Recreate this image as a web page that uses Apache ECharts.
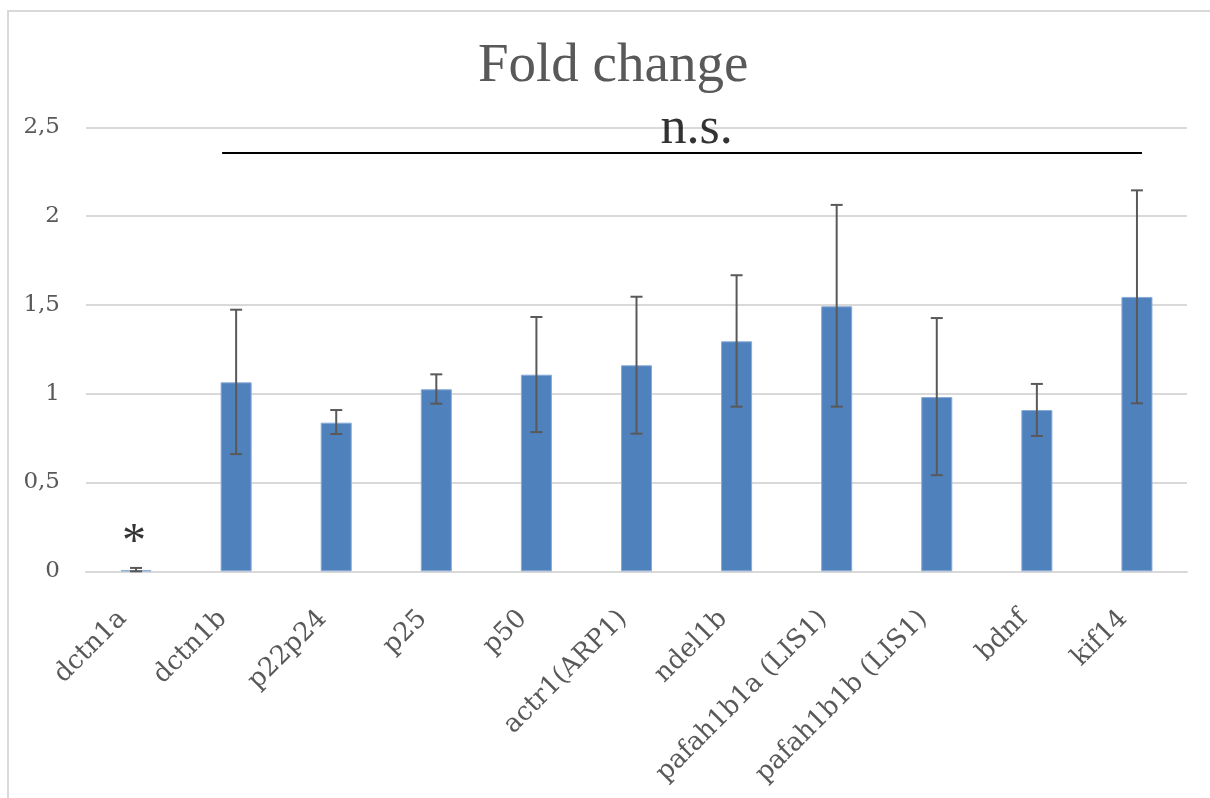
<!DOCTYPE html>
<html>
<head>
<meta charset="utf-8">
<script src="https://cdn.jsdelivr.net/npm/echarts@6/dist/echarts.min.js"></script>
<style>
html,body{margin:0;padding:0;background:#fff;}
#chart{width:1210px;height:798px;}
</style>
</head>
<body>
<div id="chart"></div>
<script>
// ---- data ----
var categories = ['dctn1a','dctn1b','p22p24','p25','p50','actr1(ARP1)','ndel1b','pafah1b1a (LIS1)','pafah1b1b (LIS1)','bdnf','kif14'];
var foldChange = [0.006, 1.064, 0.837, 1.025, 1.107, 1.160, 1.295, 1.492, 0.981, 0.908, 1.545];
var errUpper  = [0.019, 1.473, 0.908, 1.109, 1.432, 1.546, 1.667, 2.063, 1.426, 1.055, 2.145];
var errLower  = [0.000, 0.660, 0.773, 0.944, 0.784, 0.775, 0.927, 0.927, 0.541, 0.762, 0.946];
var yTicks = [0, 0.5, 1, 1.5, 2, 2.5];
var nsLine = [[0.86, 2.355], [10.05, 2.355]];
var nsLabel = [[5.6, 2.49]];
var starLabel = [[-0.02, 0.155]];

var TITLE_FONT = 'Liberation Serif';
var FONT = 'DejaVu Serif';
var chart = echarts.init(document.getElementById('chart'), null, {renderer: 'canvas'});

var errData = categories.map(function (c, i) { return [i, errLower[i], errUpper[i]]; });

var option = {
  animation: false,
  backgroundColor: '#ffffff',
  title: {
    text: 'Fold change',
    left: 473,
    top: 34,
    textStyle: {fontFamily: TITLE_FONT, fontSize: 55, fontWeight: 'normal', color: '#595959'}
  },
  graphic: [
    {type: 'polyline', shape: {points: [[8, 798], [8, 11], [1210, 11]]}, style: {stroke: '#d9d9d9', lineWidth: 2, fill: null}, silent: true}
  ],
  grid: {left: 86, right: 23, top: 127.3, bottom: 226.7, containLabel: false},
  xAxis: [{
    type: 'category',
    data: categories,
    axisLine: {show: true, lineStyle: {color: '#d9d9d9', width: 2}},
    axisTick: {show: false},
    axisLabel: {interval: 0, rotate: 45, margin: 30, padding: [0, 19, 0, 0], fontFamily: FONT, fontSize: 26, color: '#595959'}
  }, {
    type: 'value',
    min: -0.5, max: 10.5,
    show: false
  }],
  yAxis: {
    type: 'value',
    min: yTicks[0], max: yTicks[yTicks.length - 1], interval: 0.5,
    axisLine: {show: false},
    axisTick: {show: false},
    splitLine: {lineStyle: {color: '#d9d9d9', width: 2}},
    axisLabel: {
      margin: 26, fontFamily: FONT, fontSize: 23, color: '#595959',
      formatter: function (v) { return String(v).replace('.', ','); }
    }
  },
  series: [
    {
      type: 'bar',
      data: foldChange,
      barWidth: '31%',
      itemStyle: {color: '#4f81bd', borderColor: '#8aaad6', borderWidth: 1},
      z: 2
    },
    {
      type: 'custom',
      data: errData,
      z: 5,
      renderItem: function (params, api) {
        var x = api.value(0);
        var lo = api.coord([x, api.value(1)]);
        var hi = api.coord([x, api.value(2)]);
        var cap = 6;
        var st = {stroke: '#595959', lineWidth: 2};
        return {
          type: 'group',
          children: [
            {type: 'line', shape: {x1: lo[0], y1: lo[1], x2: hi[0], y2: hi[1]}, style: st},
            {type: 'line', shape: {x1: hi[0] - cap, y1: hi[1], x2: hi[0] + cap, y2: hi[1]}, style: st},
            {type: 'line', shape: {x1: lo[0] - cap, y1: lo[1], x2: lo[0] + cap, y2: lo[1]}, style: st}
          ]
        };
      }
    },
    {
      type: 'line',
      xAxisIndex: 1,
      data: nsLine,
      symbol: 'none',
      lineStyle: {color: '#000000', width: 2},
      z: 6
    },
    {
      type: 'scatter',
      xAxisIndex: 1,
      data: nsLabel,
      symbolSize: 0,
      label: {show: true, position: 'inside', formatter: 'n.s.', fontFamily: TITLE_FONT, fontSize: 52, color: '#000000'},
      z: 7
    },
    {
      type: 'scatter',
      xAxisIndex: 1,
      data: starLabel,
      symbolSize: 0,
      label: {show: true, position: 'inside', formatter: '*', fontFamily: TITLE_FONT, fontSize: 48, color: '#000000'},
      z: 7
    }
  ]
};
chart.setOption(option);
</script>
</body>
</html>
